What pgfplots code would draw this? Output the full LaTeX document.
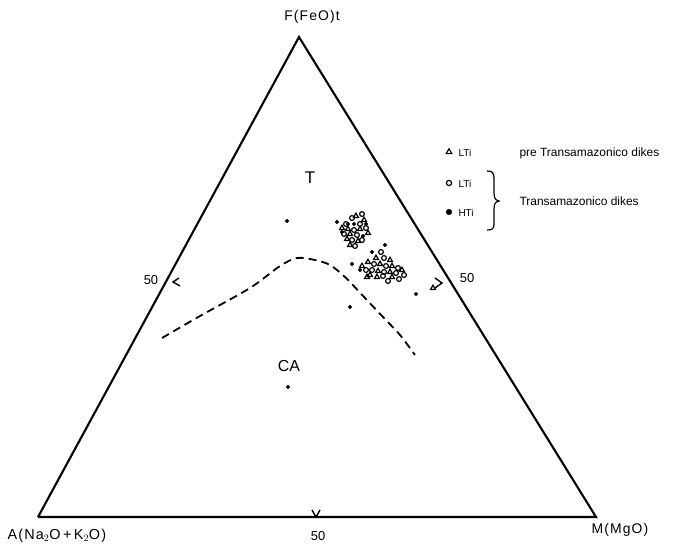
\documentclass[border=0pt]{standalone}
\usepackage{pgfplots}
\pgfplotsset{compat=1.18}
\usepackage{fontspec}
\setmainfont{Liberation Sans}
\newfontfamily\widefont[LetterSpace=8]{Liberation Sans}
\begin{document}
\begin{tikzpicture}
\begin{axis}[
  scale only axis, width=685bp, height=547bp,
  xmin=0, xmax=685, ymin=0, ymax=547, y dir=reverse,
  axis lines=none, clip=false,
]
\path (axis cs:0,0) rectangle (axis cs:685,547);
% triangle
\addplot[black, line width=2.1bp, line join=miter] coordinates {(38,517) (299,37) (596,517) (38,517)};
% tick marks
\addplot[black, line width=1.4bp] coordinates {(179,278) (173,282) (180,286)};
\addplot[black, line width=1.4bp] coordinates {(435,278) (442,283) (435,288)};
\addplot[black, line width=1.4bp] coordinates {(312,510) (316,517) (320,510)};
% dashed boundary T / CA
\addplot[black, line width=1.8bp, dash pattern=on 8bp off 5bp, smooth] coordinates {
(162,338) (200,316) (250,288) (280,266) (297,258) (315,260) (330,265) (345,277) (365,298) (383,317) (400,335) (415,355)};
% Transamazonico LTi (open circles)
\addplot[only marks, mark=o, mark size=2.4bp, black, line width=1.2bp] coordinates {
(352,218) (362,214) (360,224) (346,224) (354,230) (366,228) (357,235) (344,234) (352,240) (362,240) (355,246)
(381,252) (384,258) (374,264) (386,266) (398,268) (372,270) (384,272) (396,273) (404,275) (383,276) (399,279) (388,281) (366,270)};
% pre-Transamazonico LTi (open triangles)
\addplot[only marks, mark=triangle, mark size=2.8bp, black, line width=1.2bp] coordinates {
(356,216) (364,220) (342,228) (348,229) (360,229) (368,233) (350,234) (347,239) (358,241) (350,245)
(376,258) (390,260) (368,262) (380,264) (392,266) (362,266) (378,271) (390,272) (402,270) (370,275) (377,277) (392,277) (367,277) (433,288)};
% HTi (filled dots)
\addplot[only marks, mark=*, mark size=1.9bp, black] coordinates {
(287,221) (337,222) (348,224) (354,224) (342,232) (363,236) (366,224)
(372,252) (385,245) (352,264) (360,270) (416,294) (350,307) (288,387)};
% legend symbols
\addplot[only marks, mark=triangle, mark size=3.2bp, black, line width=1.2bp] coordinates {(449,152)};
\addplot[only marks, mark=o, mark size=2.6bp, black, line width=1.2bp] coordinates {(449,183)};
\addplot[only marks, mark=*, mark size=2.8bp, black] coordinates {(449,212)};
% brace
\draw[black, line width=1.2bp] (axis cs:487,171) .. controls (493,171) and (494,173) .. (494,180) -- (494,192) .. controls (494,198) and (495,200) .. (499,201) .. controls (495,202) and (494,204) .. (494,210) -- (494,222) .. controls (494,229) and (493,230) .. (487,230);
% labels
\node[anchor=center, font=\fontsize{14}{14}\selectfont\widefont] at (axis cs:312,17) {F(FeO)t};
\node[anchor=west, font=\fontsize{14.5}{14.5}\selectfont\widefont] at (axis cs:4,536) {A(Na$_2$O\,+\,K$_2$O)};
\node[anchor=west, font=\fontsize{14}{14}\selectfont\widefont] at (axis cs:588,530) {M(MgO)};
\node[font=\fontsize{13}{13}\selectfont] at (axis cs:318,536) {50};
\node[font=\fontsize{13}{13}\selectfont] at (axis cs:151,280) {50};
\node[font=\fontsize{13}{13}\selectfont] at (axis cs:467,278) {50};
\node[font=\fontsize{17}{17}\selectfont] at (axis cs:310,178) {T};
\node[font=\fontsize{16}{16}\selectfont] at (axis cs:289,366) {CA};
\node[anchor=west, font=\fontsize{10}{10}\selectfont] at (axis cs:455,153) {LTi};
\node[anchor=west, font=\fontsize{10}{10}\selectfont] at (axis cs:455,184) {LTi};
\node[anchor=west, font=\fontsize{10}{10}\selectfont] at (axis cs:455,213) {HTi};
\node[anchor=west, font=\fontsize{12}{12}\selectfont] at (axis cs:516,153) {pre Transamazonico dikes};
\node[anchor=west, font=\fontsize{12}{12}\selectfont] at (axis cs:516,201) {Transamazonico dikes};
\end{axis}
\end{tikzpicture}
\end{document}
